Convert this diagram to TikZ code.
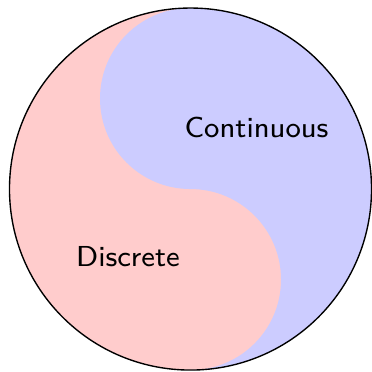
\documentclass[tikz,border=0pt]{standalone}
\usetikzlibrary{positioning}

\begin{document}
\begin{tikzpicture}[every node/.style={font=\sffamily\fontsize{8.4}{10}\selectfont},
 discr/.style={fill=red!20},
 cont/.style={fill=blue!20}]
\useasboundingbox (-1.947,-1.860) rectangle (1.855,1.932);
\def\R{1.85}
\fill[discr] (0,0) circle (\R);
\fill[cont] (0,\R) arc[start angle=90,end angle=-90,radius=\R]
 arc[start angle=-90,end angle=90,radius=\R/2]
 arc[start angle=270,end angle=90,radius=\R/2] -- cycle;
\draw (0,0) circle (\R);
\node (c) at (0.675,0.63) {Continuous};
\node (d) at (-0.639,-0.69) {Discrete};
\end{tikzpicture}
\end{document}
